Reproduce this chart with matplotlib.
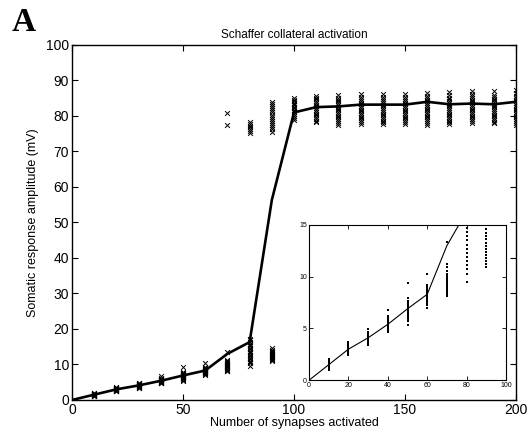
import numpy as np
import matplotlib
matplotlib.use('Agg')
import matplotlib.pyplot as plt

plt.rcParams['font.family'] = ['Liberation Sans', 'DejaVu Sans']

# mean response per number of synapses
n_syn = [0, 10, 20, 30, 40, 50, 60, 70, 80, 90, 100, 110, 120, 130, 140,
         150, 160, 170, 180, 190, 200]
mean_amp = [0, 1.5, 3.0, 4.1, 5.4, 6.9, 8.3, 13.0, 16.3, 56.3, 81.0, 82.5,
            82.7, 83.2, 83.2, 83.2, 84.0, 83.3, 83.5, 83.3, 84.0]

# individual trials (mV) at each synapse count
trials = {
    10: [1.0, 1.1, 1.2, 1.3, 1.4, 1.45, 1.5, 1.55, 1.6, 1.7, 1.8, 1.9, 2.0],
    20: [2.4, 2.5, 2.6, 2.7, 2.8, 2.9, 3.0, 3.05, 3.1, 3.2, 3.3, 3.4,
         3.5, 3.7],
    30: [3.4, 3.5, 3.6, 3.7, 3.8, 3.9, 4.0, 4.1, 4.2, 4.3, 4.4, 4.5,
         4.6, 4.7, 4.9],
    40: [4.7, 4.8, 4.9, 5.0, 5.1, 5.2, 5.3, 5.4, 5.5, 5.6, 5.7, 5.8,
         5.9, 6.0, 6.2, 6.8],
    50: [5.3, 5.7, 5.9, 6.1, 6.3, 6.5, 6.6, 6.7, 6.8, 6.9, 7.0, 7.1,
         7.2, 7.3, 7.5, 7.7, 7.9, 9.4],
    60: [7.0, 7.3, 7.5, 7.7, 7.8, 7.9, 8.0, 8.1, 8.2, 8.3, 8.4, 8.5,
         8.6, 8.8, 9.0, 9.2, 10.3],
    70: [8.1, 8.3, 8.5, 8.7, 8.9, 9.1, 9.3, 9.5, 9.7, 9.9, 10.1, 10.3,
         10.6, 10.9, 11.2, 13.4, 77.5, 80.8],
    80: [9.5, 10.3, 10.7, 11.1, 11.5, 11.9, 12.3, 12.7, 13.1, 13.5,
         13.9, 14.3, 14.7, 15.1, 15.5, 15.9, 16.3, 16.8, 17.3,
         75.3, 75.8, 76.3, 76.8, 77.3, 77.8, 78.4],
    90: [10.9, 11.2, 11.5, 11.8, 12.1, 12.4, 12.7, 13.0, 13.3, 13.6, 13.9,
         14.2, 14.6,
         75.6, 76.2, 76.8, 77.4, 78.0, 78.6, 79.2, 79.8, 80.4, 81.0, 81.6,
         82.2, 82.8, 83.4, 84.0],
    100: [79.0, 79.5, 80.0, 80.5, 81.0, 81.4, 81.8, 82.2, 82.6, 83.0,
          83.4, 83.8, 84.2, 84.6, 85.1],
    110: [78.2, 78.7, 79.2, 79.7, 80.2, 80.7, 81.2, 81.7, 82.2, 82.7,
          83.2, 83.7, 84.2, 84.7, 85.1, 85.5],
    120: [77.6, 78.1, 78.6, 79.1, 79.6, 80.1, 80.6, 81.1, 81.6, 82.1,
          82.6, 83.1, 83.6, 84.1, 84.6, 85.1, 85.8],
    130: [77.8, 78.3, 78.8, 79.3, 79.8, 80.3, 80.8, 81.3, 81.8, 82.3,
          82.8, 83.3, 83.8, 84.3, 84.8, 85.4, 86.2],
    140: [77.7, 78.2, 78.7, 79.2, 79.7, 80.2, 80.7, 81.2, 81.7, 82.2,
          82.7, 83.2, 83.7, 84.2, 84.7, 85.3, 86.3],
    150: [77.8, 78.3, 78.8, 79.3, 79.8, 80.3, 80.8, 81.3, 81.8, 82.3,
          82.8, 83.3, 83.8, 84.3, 84.8, 85.4, 86.3],
    160: [77.6, 78.1, 78.6, 79.1, 79.6, 80.1, 80.6, 81.1, 81.6, 82.1,
          82.6, 83.1, 83.6, 84.1, 84.6, 85.1, 85.7, 86.6],
    170: [77.7, 78.2, 78.7, 79.2, 79.7, 80.2, 80.7, 81.2, 81.7, 82.2,
          82.7, 83.2, 83.7, 84.2, 84.7, 85.2, 85.8, 86.8],
    180: [78.1, 78.6, 79.1, 79.6, 80.1, 80.6, 81.1, 81.6, 82.1, 82.6,
          83.1, 83.6, 84.1, 84.6, 85.1, 85.6, 86.2, 86.9],
    190: [77.9, 78.4, 78.9, 79.4, 79.9, 80.4, 80.9, 81.4, 81.9, 82.4,
          82.9, 83.4, 83.9, 84.4, 84.9, 85.4, 86.0, 87.0],
    200: [77.6, 78.1, 78.6, 79.1, 79.6, 80.1, 80.6, 81.1, 81.6, 82.1,
          82.6, 83.1, 83.6, 84.1, 84.6, 85.1, 85.7, 86.6, 87.4],
}

tx = [k for k, v in trials.items() for _ in v]
ty = [y for v in trials.values() for y in v]

fig = plt.figure(figsize=(5.32, 4.36), dpi=100)
ax = fig.add_axes([0.1353, 0.0826, 0.8347, 0.8142])

ax.scatter(tx, ty, marker='x', s=12, c='black', linewidths=0.7)
ax.plot(n_syn, mean_amp, color='black', lw=1.9)

ax.set_xlim(0, 200)
ax.set_ylim(0, 100)
ax.set_xticks([0, 50, 100, 150, 200])
ax.set_yticks(range(0, 101, 10))
ax.tick_params(direction='in', top=True, right=True, labelsize=10, length=4,
               width=0.8, pad=2)
for sp in ax.spines.values():
    sp.set_linewidth(1.0)
ax.set_xlabel('Number of synapses activated', fontsize=9, labelpad=0)
ax.set_ylabel('Somatic response amplitude (mV)', fontsize=9, labelpad=5)
ax.set_title('Schaffer collateral activation', fontsize=8.5, pad=5)

fig.text(0.022, 0.985, 'A', fontsize=24, fontweight='bold',
         family='Liberation Serif', ha='left', va='top')

# inset: low-synapse region
ins = fig.add_axes([0.581, 0.128, 0.370, 0.356])
ins.scatter(tx, ty, marker='s', s=2.5, c='black', linewidths=0)
ins.plot(n_syn, mean_amp, color='black', lw=0.8)
ins.set_xlim(0, 100)
ins.set_ylim(0, 15)
ins.set_xticks(range(0, 101, 20))
ins.set_yticks([0, 5, 10, 15])
ins.tick_params(direction='in', top=True, right=True, labelsize=5, length=3,
                width=0.6, pad=1.5)
for sp in ins.spines.values():
    sp.set_linewidth(0.8)

fig.savefig('out.png', dpi=100)
